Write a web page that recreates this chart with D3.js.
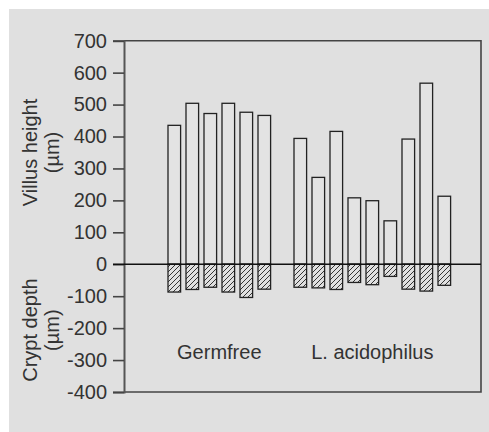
<!DOCTYPE html>
<html>
<head>
<meta charset="utf-8">
<script src="https://cdn.jsdelivr.net/npm/d3@7"></script>
<style>
  body { margin: 0; background: #fff; }
  text { font-family: "Liberation Sans", Arial, sans-serif; fill: #333; }
</style>
</head>
<body>
<svg id="chart" width="489" height="432"></svg>
<script>
// Values (µm)
const groups = ["Germfree", "L. acidophilus"];
const germfreeVillus = [435, 504, 472, 504, 476, 466];
const germfreeCrypt = [-87, -79, -72, -87, -104, -78];
const acidoVillus = [394, 272, 416, 208, 199, 136, 392, 567, 213];
const acidoCrypt = [-72, -74, -79, -57, -64, -38, -78, -84, -66];
const yTicks = [700, 600, 500, 400, 300, 200, 100, 0, -100, -200, -300, -400];

// one row per bar, a blank slot between the two groups
const bars = [];
germfreeVillus.forEach((v, i) => bars.push({ key: "g" + i, group: groups[0], villus: v, crypt: germfreeCrypt[i] }));
acidoVillus.forEach((v, i) => bars.push({ key: "a" + i, group: groups[1], villus: v, crypt: acidoCrypt[i] }));
const slots = bars.slice(0, 6).map(d => d.key).concat(["gap"], bars.slice(6).map(d => d.key));

const svg = d3.select("#chart");

// grey panel
svg.append("rect")
    .attr("x", 9).attr("y", 9)
    .attr("width", 480).attr("height", 423)
    .attr("fill", "#e0e0e0");

// hatch for crypt bars
const defs = svg.append("defs");
defs.append("pattern")
    .attr("id", "hatch")
    .attr("patternUnits", "userSpaceOnUse")
    .attr("width", 5).attr("height", 5)
    .append("path")
    .attr("d", "M-1,1 l2,-2 M0,5 l5,-5 M4,6 l2,-2")
    .attr("stroke", "#222")
    .attr("stroke-width", 0.9);

const plotLeft = 124, plotRight = 481, plotTop = 40.7, plotBottom = 392;

const x = d3.scaleBand()
    .domain(slots)
    .range([162.6, 456])
    .paddingInner(0.3)
    .paddingOuter(0.3);

const y = d3.scaleLinear()
    .domain([-400, 700])
    .range([plotBottom, plotTop]);

// frame (top, right, bottom)
svg.append("path")
    .attr("d", `M${plotLeft},${plotTop} H${plotRight} V${plotBottom} H${plotLeft}`)
    .attr("fill", "none")
    .attr("stroke", "#444")
    .attr("stroke-width", 1.6);

// y axis
const yAxis = svg.append("g")
    .attr("transform", `translate(${plotLeft},0)`)
    .call(d3.axisLeft(y).tickValues(yTicks).tickSize(11).tickPadding(6).tickFormat(d => String(d)));
yAxis.select(".domain").attr("stroke", "#555").attr("stroke-width", 2);
yAxis.selectAll(".tick line").attr("stroke", "#444").attr("stroke-width", 1.6);
yAxis.selectAll(".tick text")
    .style("font-family", "'Liberation Sans', Arial, sans-serif")
    .style("font-size", "20px")
    .attr("fill", "#333");

// villus bars
svg.append("g").selectAll("rect")
    .data(bars)
    .join("rect")
    .attr("x", d => x(d.key))
    .attr("y", d => y(d.villus))
    .attr("width", x.bandwidth())
    .attr("height", d => y(0) - y(d.villus))
    .attr("fill", "#e3e3e3")
    .attr("stroke", "#222")
    .attr("stroke-width", 1.3);

// crypt bars
svg.append("g").selectAll("rect")
    .data(bars)
    .join("rect")
    .attr("x", d => x(d.key))
    .attr("y", y(0))
    .attr("width", x.bandwidth())
    .attr("height", d => y(d.crypt) - y(0))
    .attr("fill", "url(#hatch)")
    .attr("stroke", "#222")
    .attr("stroke-width", 1.3);

// zero line
svg.append("line")
    .attr("x1", plotLeft - 11).attr("x2", plotRight)
    .attr("y1", y(0)).attr("y2", y(0))
    .attr("stroke", "#111")
    .attr("stroke-width", 1.6);

// group labels
groups.forEach(g => {
    const keys = bars.filter(d => d.group === g).map(d => d.key);
    const cx = (x(keys[0]) + x(keys[keys.length - 1]) + x.bandwidth()) / 2;
    svg.append("text")
        .attr("x", cx)
        .attr("y", 359)
        .attr("text-anchor", "middle")
        .style("font-size", "20px")
        .text(g);
});

// axis titles
function title(lines, cy) {
    const t = svg.append("text")
        .attr("transform", `translate(37,${cy}) rotate(-90)`)
        .attr("text-anchor", "middle")
        .style("font-size", "20px");
    lines.forEach((s, i) => t.append("tspan").attr("x", 0).attr("dy", i ? 22 : 0).text(s));
}
title(["Villus height", "(µm)"], (y(700) + y(0)) / 2);
title(["Crypt depth", "(µm)"], (y(0) + y(-400)) / 2 + 2);
</script>
</body>
</html>
